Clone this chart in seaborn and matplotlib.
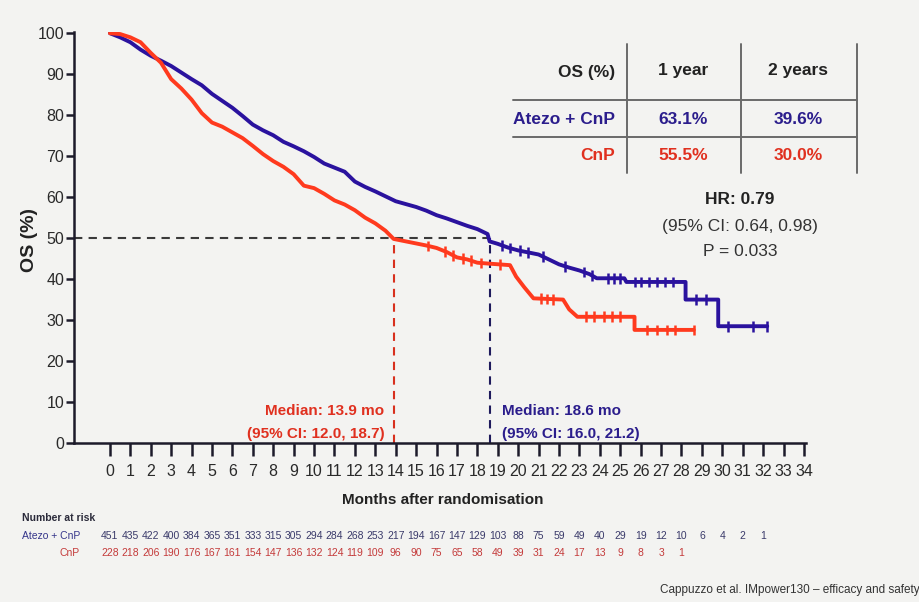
import numpy as np
import pandas as pd
import matplotlib
matplotlib.use("Agg")
import matplotlib.pyplot as plt
import seaborn as sns
from matplotlib.lines import Line2D
from matplotlib.transforms import blended_transform_factory

# ---- Kaplan-Meier overall survival (%) by arm ----
# repeated times mark the vertical drops of the sparse tail
atezo_t = [0, 0.5, 1, 1.5, 2, 2.5, 3, 3.5, 4, 4.5, 5, 5.5, 6, 6.5, 7, 7.5, 8, 8.5,
           9, 9.5, 10, 10.5, 11, 11.5, 12, 12.5, 13, 13.5, 14, 14.5, 15, 15.5, 16,
           16.5, 17, 17.5, 18, 18.5, 18.6, 19.0, 19.5, 20, 20.5, 21, 21.5, 22, 22.5,
           23, 23.5, 23.85, 25.2, 25.3, 28.2, 28.2, 29.8, 29.8, 32.2]
atezo_os = [100, 99, 97.8, 96, 94.5, 93.3, 92, 90.4, 88.8, 87.3, 85.2, 83.5, 81.8,
            79.8, 77.7, 76.3, 75.1, 73.5, 72.4, 71.2, 69.8, 68.2, 67.2, 66.2, 63.8,
            62.5, 61.4, 60.2, 59.0, 58.3, 57.6, 56.7, 55.6, 54.8, 53.9, 53.0, 52.2,
            51.0, 49.2, 48.6, 47.7, 47.0, 46.5, 46.0, 44.8, 43.6, 42.8, 42.1, 41.2,
            40.2, 40.2, 39.3, 39.3, 35.0, 35.0, 28.5, 28.5]

cnp_t = [0, 0.5, 1, 1.5, 2, 2.5, 3, 3.5, 4, 4.5, 5, 5.5, 6, 6.5, 7, 7.5, 8, 8.5, 9,
         9.5, 10, 10.5, 11, 11.5, 12, 12.5, 13, 13.5, 13.9, 14.5, 15, 15.5, 16, 16.5,
         17, 17.5, 18, 18.5, 19.6, 19.9, 20.3, 20.75, 22.2, 22.5, 22.9, 25.7, 25.7,
         28.6]
cnp_os = [100, 99.8, 99, 97.8, 95.2, 92.8, 88.8, 86.5, 83.8, 80.5, 78.2, 77.2, 75.8,
          74.4, 72.5, 70.5, 68.8, 67.4, 65.6, 62.8, 62.2, 60.8, 59.2, 58.2, 56.8,
          55.0, 53.6, 51.8, 49.8, 49.2, 48.7, 48.2, 47.6, 46.6, 45.3, 44.8, 44.0,
          43.8, 43.4, 40.6, 38.0, 35.3, 35.0, 32.6, 30.8, 30.8, 27.6, 27.6]

# censoring times
atezo_cens = [19.2, 19.6, 20.1, 20.5, 21.2, 22.3, 23.2, 23.6, 24.4, 24.7, 25.0,
              25.7, 26.0, 26.4, 26.8, 27.2, 27.6, 28.7, 29.2, 30.3, 31.5, 32.2]
cnp_cens = [15.6, 16.4, 16.8, 17.3, 17.7, 18.2, 19.1, 21.1, 21.4, 21.7, 23.3, 23.7,
            24.2, 24.6, 25.0, 26.3, 26.8, 27.3, 27.7, 28.6]

# medians
atezo_median = 18.6
cnp_median = 13.9

# numbers at risk
risk_months = list(range(0, 33))
atezo_risk = [451, 435, 422, 400, 384, 365, 351, 333, 315, 305, 294, 284, 268, 253,
              217, 194, 167, 147, 129, 103, 88, 75, 59, 49, 40, 29, 19, 12, 10, 6,
              4, 2, 1]
cnp_risk = [228, 218, 206, 190, 176, 167, 161, 154, 147, 136, 132, 124, 119, 109,
            96, 90, 75, 65, 58, 49, 39, 31, 24, 17, 13, 9, 8, 3, 1]

arms = ["Atezo + CnP", "CnP"]
os_table_cols = ["1 year", "2 years"]
os_table = {"Atezo + CnP": ["63.1%", "39.6%"], "CnP": ["55.5%", "30.0%"]}

BLUE = "#2a129e"
RED = "#ff3a1e"
BLUE_TXT = "#2b1d8c"
RED_TXT = "#e0301f"
BG = "#f3f3f1"

sns.set_theme(style="ticks")
plt.rcParams["font.family"] = ["Liberation Sans", "DejaVu Sans"]

fig = plt.figure(figsize=(9.2, 6.02), dpi=100, facecolor=BG)
ax = fig.add_axes([74 / 920, 1 - 443 / 602, (806 - 74) / 920, (443 - 32) / 602])
ax.set_facecolor(BG)

df = pd.concat([
    pd.DataFrame({"month": atezo_t, "os": atezo_os, "arm": arms[0]}),
    pd.DataFrame({"month": cnp_t, "os": cnp_os, "arm": arms[1]}),
])
palette = {arms[0]: BLUE, arms[1]: RED}

# median reference lines
ax.plot([-1.76, atezo_median], [50, 50], ls=(0, (4, 3)), color="#3a3a3a", lw=1.5, zorder=1)
ax.plot([cnp_median, cnp_median], [0, 50], ls=(0, (4, 3)), color="#d8301e", lw=1.5, zorder=1)
ax.plot([atezo_median, atezo_median], [0, 50], ls=(0, (4, 3)), color="#1e1a5c", lw=1.5, zorder=1)

sns.lineplot(data=df, x="month", y="os", hue="arm", palette=palette,
             lw=2.8, legend=False, ax=ax, zorder=3, estimator=None, sort=False)

cens_df = pd.concat([
    pd.DataFrame({"month": atezo_cens, "os": np.interp(atezo_cens, atezo_t, atezo_os), "arm": arms[0]}),
    pd.DataFrame({"month": cnp_cens, "os": np.interp(cnp_cens, cnp_t, cnp_os), "arm": arms[1]}),
])
sns.scatterplot(data=cens_df, x="month", y="os", hue="arm", palette=palette,
                marker="|", s=60, linewidth=1.8, legend=False, ax=ax, zorder=4)

ax.set_xlim(-1.76, 34.1)
ax.set_ylim(0, 100.3)
ax.set_xticks(range(0, 35))
ax.set_yticks(range(0, 101, 10))
ax.set_xlabel("")
ax.set_ylabel("")
for s in ["top", "right"]:
    ax.spines[s].set_visible(False)
for s in ["left", "bottom"]:
    ax.spines[s].set_color("#1c1a2a")
    ax.spines[s].set_linewidth(1.8)
ax.tick_params(axis="x", length=9, width=1.8, color="#1c1a2a", pad=6,
               labelsize=11.5, labelcolor="#2a2a2a")
ax.tick_params(axis="y", length=6, width=1.8, color="#1c1a2a", pad=1,
               labelsize=11.5, labelcolor="#2a2a2a")

fig.text(30 / 920, 1 - 240 / 602, "OS (%)", rotation=90, ha="center", va="center",
         fontsize=14, fontweight="bold", color="#222222")
fig.text(443 / 920, 1 - 500 / 602, "Months after randomisation", ha="center",
         va="center", fontsize=11, fontweight="bold", color="#222222")

# median annotations
ax.text(13.45, 7.9, "Median: 13.9 mo", ha="right", va="center", fontsize=11,
        fontweight="bold", color=RED_TXT)
ax.text(13.45, 2.3, "(95% CI: 12.0, 18.7)", ha="right", va="center", fontsize=11,
        fontweight="bold", color=RED_TXT)
ax.text(19.2, 7.9, "Median: 18.6 mo", ha="left", va="center", fontsize=11,
        fontweight="bold", color=BLUE_TXT)
ax.text(19.2, 2.3, "(95% CI: 16.0, 21.2)", ha="left", va="center", fontsize=11,
        fontweight="bold", color=BLUE_TXT)


def fx(px):
    return px / 920


def fy(py):
    return 1 - py / 602


# OS summary table
tbl_col = "#6a6a6a"
for xv in [627, 741, 857]:
    fig.add_artist(Line2D([fx(xv), fx(xv)], [fy(44), fy(173)], color=tbl_col, lw=1.4))
for yv in [100, 137]:
    fig.add_artist(Line2D([fx(513), fx(857)], [fy(yv), fy(yv)], color=tbl_col, lw=1.4))

tfs = 12.5
fig.text(fx(615), fy(72), "OS (%)", ha="right", va="center", fontsize=tfs,
         fontweight="bold", color="#222222")
for cx, lab in zip([683, 798], os_table_cols):
    fig.text(fx(cx), fy(71), lab, ha="center", va="center", fontsize=tfs,
             fontweight="bold", color="#222222")
for ry, arm, col in [(119, arms[0], BLUE_TXT), (156, arms[1], RED_TXT)]:
    fig.text(fx(615), fy(ry), arm, ha="right", va="center", fontsize=tfs,
             fontweight="bold", color=col)
    for cx, val in zip([683, 798], os_table[arm]):
        fig.text(fx(cx), fy(ry), val, ha="center", va="center", fontsize=tfs,
                 fontweight="bold", color=col)

fig.text(fx(740), fy(200), "HR: 0.79", ha="center", va="center", fontsize=tfs,
         fontweight="bold", color="#222222")
fig.text(fx(740), fy(227), "(95% CI: 0.64, 0.98)", ha="center", va="center",
         fontsize=tfs, color="#333333")
fig.text(fx(740), fy(251), "P = 0.033", ha="center", va="center", fontsize=tfs,
         color="#333333")

# numbers at risk
trans = blended_transform_factory(ax.transData, fig.transFigure)
fig.text(fx(22), fy(518), "Number at risk", ha="left", va="center", fontsize=7.5,
         fontweight="bold", color="#2a2a3a")
fig.text(fx(22), fy(536), "Atezo + CnP", ha="left", va="center", fontsize=7.5,
         color="#35358a")
fig.text(fx(80), fy(553), "CnP", ha="right", va="center", fontsize=7.5,
         color="#c43a3a")
for m, n in zip(risk_months, atezo_risk):
    ax.text(m, fy(536), str(n), transform=trans, ha="center", va="center",
            fontsize=7.5, color="#3a3a6a")
for m, n in zip(risk_months, cnp_risk):
    ax.text(m, fy(553), str(n), transform=trans, ha="center", va="center",
            fontsize=7.5, color="#c43a3a")

fig.text(fx(660), fy(590), "Cappuzzo et al. IMpower130 \u2013 efficacy and safety",
         ha="left", va="center", fontsize=8.5, color="#333333")

fig.savefig("out.png", dpi=100, facecolor=BG)
